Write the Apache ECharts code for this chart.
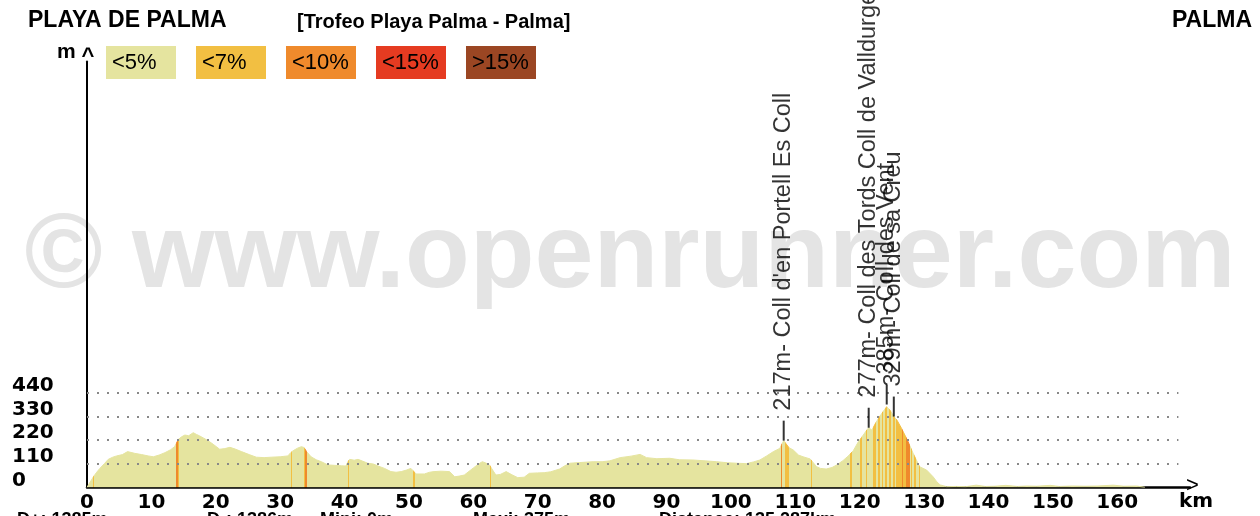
<!DOCTYPE html>
<html><head><meta charset="utf-8">
<script src="https://cdn.jsdelivr.net/npm/echarts@6/dist/echarts.min.js"></script>
<style>html,body{margin:0;padding:0;background:#fff}#c{width:1260px;height:516px}</style>
</head><body><div id="c"></div>
<script>
const startName = 'PLAYA DE PALMA';
const routeName = '[Trofeo Playa Palma - Palma]';
const endName = 'PALMA';
const watermark = '\u00A9 www.openrunner.com';
const gradeLabels = ['<5%', '<7%', '<10%', '<15%', '>15%'];
const gradeColors = ['#e5e49f', '#f2bf42', '#ef8a2c', '#e53b21', '#9b4623'];

const distanceKm = [0,0.5,1.0,1.5,2.0,2.7,3.3,4.0,4.6,5.5,6.3,7.4,8.5,9.5,10.3,11.2,12.1,13.0,13.6,14.2,14.7,15.2,15.8,16.5,17.0,17.5,18.8,19.6,20.6,21.4,22.2,23.0,24.0,25.2,26.3,27.5,28.6,30.0,31.2,31.6,32.0,32.7,33.3,33.7,34.1,34.8,35.6,36.4,37.4,38.5,39.5,40.2,40.5,40.8,41.5,42.1,43.6,44.5,45.2,46.2,47.2,48.0,48.8,49.6,50.3,50.8,51.1,52.4,53.2,53.9,55.0,56.3,57.1,57.8,58.6,60.0,61.0,61.4,62.0,62.5,63.0,63.5,64.2,65.1,66.0,66.9,67.9,68.7,70.0,71.0,72.0,73.4,74.2,75.0,76.5,78.6,80.0,81.2,82.8,84.5,85.9,86.9,88.5,90.5,92.0,94.1,96.0,97.8,99.5,100.9,102.4,103.5,104.5,105.5,106.6,107.6,108.2,109.0,109.7,110.5,111.2,112.3,112.6,113.3,113.9,114.8,115.7,116.5,117.4,118.2,119.0,119.8,120.3,121.0,121.4,121.9,122.5,123.1,123.9,124.2,124.8,125.3,125.8,126.5,127.4,128.3,129.3,130.4,131.4,132.0,132.5,133.5,135.0,136.5,138.1,139.5,141.0,142.7,144.5,146.0,147.5,149.6,151.0,153.0,155.0,157.0,159.4,161.0,163.0,164.3];
const elevationM = [0,25,49,70,88,110,130,140,146,152,166,158,152,146,142,150,161,175,189,223,235,243,240,254,246,239,217,200,177,180,186,178,166,152,140,138,140,142,146,160,170,182,189,185,166,142,128,119,104,102,100,99,118,130,126,130,112,108,99,88,73,70,73,80,88,72,62,62,70,73,75,73,49,52,57,90,112,119,112,104,80,57,60,73,58,45,47,65,67,68,72,85,100,112,115,119,119,123,138,145,153,138,133,135,128,127,123,119,114,112,110,118,127,145,166,181,217,185,173,150,142,132,126,96,88,85,92,105,124,145,170,212,232,262,277,266,300,329,363,375,355,329,312,274,220,158,96,80,49,25,11,3,4,3,10,4,5,9,4,6,5,9,4,6,5,6,10,5,6,0];

// [fromKm, toKm, gradeIndex]
const steepSegments = [
  [0.9,1.05,1],[13.75,13.85,1],[13.85,14.15,2],[14.15,14.25,1],[31.7,31.9,1],
  [33.65,33.8,1],[33.8,34.2,2],[40.5,40.7,1],[50.6,50.9,1],[62.6,62.75,1],
  [107.75,108.0,2],[108.4,109.1,1],[112.4,112.6,1],[118.5,118.8,1],[120.0,120.3,1],
  [121.0,121.2,1],[122.1,122.5,1],[122.8,123.1,1],[123.4,123.6,1],[124.0,124.2,1],
  [124.6,124.8,1],[125.2,125.5,1],[125.7,126.5,1],[126.5,126.8,2],[126.8,127.2,1],
  [127.2,127.8,2],[128.0,128.2,1],[128.5,128.7,1],[129.2,129.4,1],[129.8,129.9,1]
];

const peakKm = [108.2, 121.4, 124.2, 125.3];
const peakElev = [217, 277, 385, 329];
const peakNames = ["Coll d'en Portell Es Coll", 'Coll des Tords Coll de Valldurgent', 'Coll des Vent', 'Coll de sa Creu'];

const yTickLabels = [0, 110, 220, 330, 440];
const xTickLabels = [0,10,20,30,40,50,60,70,80,90,100,110,120,130,140,150,160];
const statsText = ['D+: 1385m', 'D-: 1386m', 'Mini: 0m', 'Maxi: 375m', 'Distance: 135.287km'];

const FONT = '"Liberation Sans", Arial, sans-serif';
const AXFONT = '"DejaVu Sans", sans-serif';
const chart = echarts.init(document.getElementById('c'));

const pieces = steepSegments.slice().sort((a,b)=>a[0]-b[0]).map(s => ({gte: s[0], lt: s[1], color: gradeColors[s[2]]}));
const gridEndKm = 169.5;

const graphics = [
  {type:'text', z:-10, x:630, y:258, style:{text:watermark, font:'bold 106px ' + FONT, fill:'#e4e4e4', align:'center', verticalAlign:'middle'}},
  {type:'text', x:28, y:21, style:{text:startName, font:'bold 23px ' + FONT, fill:'#000', verticalAlign:'middle'}},
  {type:'text', x:297, y:22, style:{text:routeName, font:'bold 20px ' + FONT, fill:'#000', verticalAlign:'middle'}},
  {type:'text', x:1252, y:21, style:{text:endName, font:'bold 23px ' + FONT, fill:'#000', align:'right', verticalAlign:'middle'}},
  {type:'text', x:57, y:52, style:{text:'m', font:'bold 21px ' + FONT, fill:'#000', verticalAlign:'middle'}},
  {type:'text', x:88, y:57, style:{text:'^', font:'bold 22px ' + FONT, fill:'#000', align:'center', verticalAlign:'middle'}},
  {type:'text', x:1186, y:486, style:{text:'>', font:'22px ' + FONT, fill:'#000', verticalAlign:'middle'}},
  {type:'text', x:1179, y:502, style:{text:'km', font:'bold 20px ' + AXFONT, fill:'#000', verticalAlign:'middle'}},
];
gradeLabels.forEach((lab, i) => {
  graphics.push({type:'rect', shape:{x:106 + i*90, y:46, width:70, height:33}, style:{fill:gradeColors[i]}});
  graphics.push({type:'text', x:112 + i*90, y:63, style:{text:lab, font:'22px ' + FONT, fill:'#000', verticalAlign:'middle'}});
});
const statsX = [17, 207, 320, 473, 659];
statsText.forEach((t, i) => {
  graphics.push({type:'text', x:statsX[i], y:511, style:{text:t, font:'bold 18px ' + FONT, fill:'#000', verticalAlign:'top'}});
});

chart.setOption({
  animation: false,
  backgroundColor: '#fff',
  grid: {left: 87, right: 70, top: 61.6, bottom: 28.7, containLabel: false},
  xAxis: {
    type: 'value', min: 0, max: 171.3, interval: 10,
    axisLine: {show: true, lineStyle: {color: '#000', width: 2.5}},
    axisTick: {show: false},
    splitLine: {show: false},
    axisLabel: {
      formatter: v => xTickLabels.includes(v) ? String(v) : '',
      color: '#000', fontSize: 20, fontWeight: 'bold', fontFamily: AXFONT, margin: 5,
      showMinLabel: true, showMaxLabel: false
    }
  },
  yAxis: {
    type: 'value', min: 0, max: 1980, interval: 110,
    axisLine: {show: true, lineStyle: {color: '#000', width: 2}},
    axisTick: {show: false},
    splitLine: {show: false},
    axisLabel: {
      formatter: v => yTickLabels.includes(v) ? String(v) : '',
      color: '#000', fontSize: 20, fontWeight: 'bold', fontFamily: AXFONT,
      align: 'left', margin: 75, verticalAlign: 'bottom', lineHeight: 14,
      showMinLabel: true, hideOverlap: false
    }
  },
  visualMap: {
    show: false, type: 'piecewise', seriesIndex: 0, dimension: 0,
    pieces: pieces, outOfRange: {color: gradeColors[0]}
  },
  graphic: graphics,
  series: [
    {
      type: 'line', z: 2,
      data: distanceKm.map((d, i) => [d, elevationM[i]]),
      symbol: 'none', smooth: false,
      lineStyle: {width: 1},
      areaStyle: {opacity: 1},
      markLine: {
        silent: true, symbol: 'none', animation: false,
        label: {show: false},
        lineStyle: {color: '#888', type: [2, 8], width: 2},
        data: yTickLabels.filter(v => v > 0).map(v => [{coord: [0, v]}, {coord: [gridEndKm, v]}])
      }
    },
    {
      type: 'scatter', z: 5,
      data: peakKm.map((k, i) => [k, peakElev[i]]),
      symbol: 'rect', symbolSize: [2, 20], symbolOffset: [0, -10],
      itemStyle: {color: '#000'},
      label: {
        show: true, position: 'top', distance: 10, rotate: 90,
        align: 'left', verticalAlign: 'middle',
        formatter: p => peakElev[p.dataIndex] + 'm- ' + peakNames[p.dataIndex],
        color: '#000', fontSize: 23.5, fontFamily: FONT
      }
    }
  ]
});
</script></body></html>
